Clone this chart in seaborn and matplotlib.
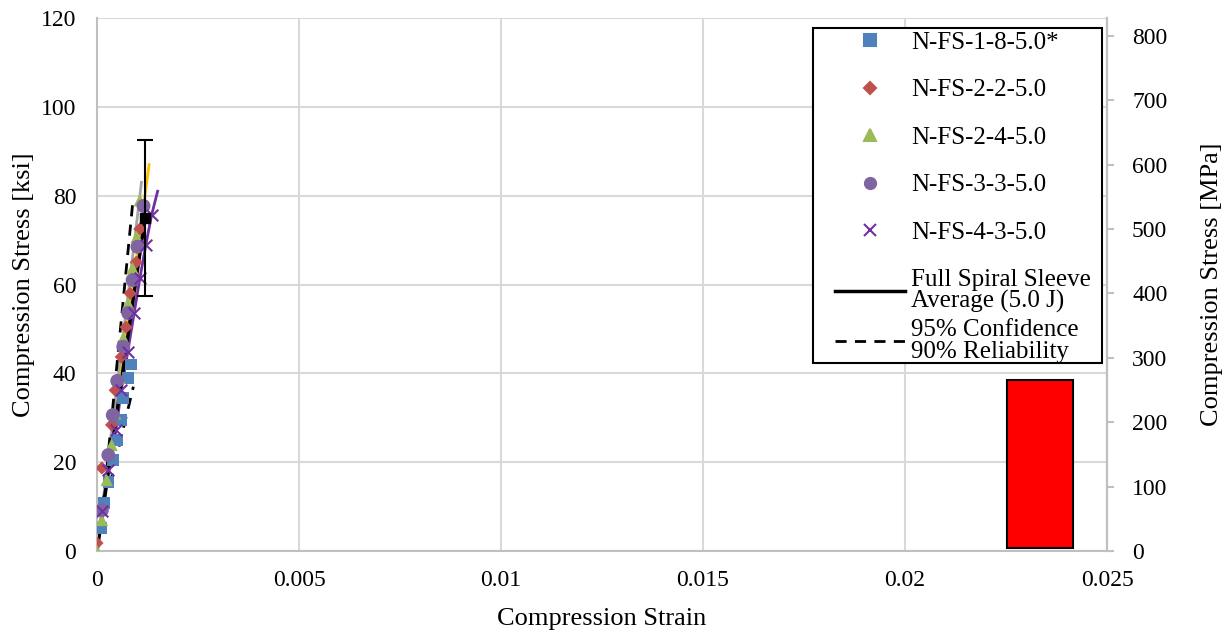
import matplotlib
matplotlib.use('Agg')
import matplotlib.pyplot as plt
import seaborn as sns
import pandas as pd
from matplotlib.lines import Line2D
from matplotlib.patches import Rectangle

# data (strain, ksi)
s1_strain = [0.0001, 0.00018, 0.00028, 0.0004, 0.00049, 0.0006, 0.00065, 0.00077, 0.00084]
s1_stress = [5.2, 10.8, 15.6, 20.5, 25.0, 29.5, 34.5, 39.0, 42.0]
s2_strain = [0.0, 0.00012, 0.00036, 0.00045, 0.0006, 0.00072, 0.00082, 0.00097, 0.00106]
s2_stress = [1.8, 18.7, 28.4, 36.2, 43.7, 50.4, 58.0, 65.0, 72.5]
s3_strain = [0.0, 0.00012, 0.00024, 0.00036, 0.00045, 0.00055, 0.00065, 0.00077, 0.00088, 0.00098, 0.00106]
s3_stress = [0.0, 7.0, 16.0, 23.9, 31.0, 39.0, 48.0, 55.8, 63.7, 70.7, 79.0]
s4_strain = [0.00012, 0.00028, 0.00039, 0.0005, 0.00065, 0.00077, 0.00088, 0.001, 0.00115]
s4_stress = [9.2, 21.6, 30.6, 38.3, 46.0, 53.6, 61.0, 68.5, 77.7]
s5_strain = [0.00012, 0.00028, 0.00047, 0.0006, 0.00076, 0.00092, 0.00106, 0.00121, 0.00135]
s5_stress = [9.0, 18.2, 27.2, 36.2, 44.8, 53.6, 61.4, 69.0, 75.6]
s5_line_strain = [0.0, 0.00012, 0.00028, 0.00047, 0.0006, 0.00076, 0.00092, 0.00106, 0.00121, 0.00135, 0.0015]
s5_line_stress = [0.0, 9.0, 18.2, 27.2, 36.2, 44.8, 53.6, 61.4, 69.0, 75.6, 81.0]

# extra curves with no legend entry
yellow_strain = [0.0, 0.0004, 0.0008, 0.00129]
yellow_stress = [0.0, 27.0, 54.0, 87.0]
grey_strain = [0.0, 0.0004, 0.0008, 0.0011]
grey_stress = [0.0, 30.0, 60.0, 83.0]

avg_strain = [0.0, 0.0003, 0.0006, 0.0009, 0.00119]
avg_stress = [0.0, 19.0, 38.0, 57.0, 75.0]
peak_strain = [0.00119]
peak_stress = [75.0]
peak_err = [17.5]

upper_strain = [0.00015, 0.00088]
upper_stress = [10.0, 78.0]
lower_strain = [0.00032, 0.0009]
lower_stress = [15.0, 37.0]

labels = ["N-FS-1-8-5.0*", "N-FS-2-2-5.0", "N-FS-2-4-5.0", "N-FS-3-3-5.0", "N-FS-4-3-5.0"]
colors = ["#4F81BD", "#C0504D", "#9BBB59", "#8064A2", "#7030A0"]
markers = ["s", "D", "^", "o", "x"]
sizes = [70, 45, 80, 100, 70]

plt.rcParams['font.family'] = ['Liberation Serif', 'DejaVu Serif']

fig = plt.figure(figsize=(12.28, 6.33), dpi=100)
ax = fig.add_axes([0.079, 0.1295, 0.8225, 0.842])

sns.lineplot(x=yellow_strain, y=yellow_stress, color="#FFC000", lw=2, ax=ax, sort=False)
sns.lineplot(x=grey_strain, y=grey_stress, color="#A5A5A5", lw=2, ax=ax, sort=False)
sns.lineplot(x=s5_line_strain, y=s5_line_stress, color="#7030A0", lw=2, ax=ax, sort=False)
sns.lineplot(x=avg_strain, y=avg_stress, color="black", lw=2.5, ax=ax, sort=False)

series = [(s1_strain, s1_stress), (s2_strain, s2_stress), (s3_strain, s3_stress),
          (s4_strain, s4_stress), (s5_strain, s5_stress)]
for (xs, ys), lab, c, m, sz in zip(series, labels, colors, markers, sizes):
    df = pd.DataFrame({"strain": xs, "stress": ys})
    if m == "x":
        sns.scatterplot(data=df, x="strain", y="stress", color=c, marker=m, s=sz,
                        linewidth=1.5, ax=ax, zorder=4)
    else:
        sns.scatterplot(data=df, x="strain", y="stress", color=c, marker=m, s=sz,
                        edgecolor="none", ax=ax, zorder=4)

sns.lineplot(x=upper_strain, y=upper_stress, color="black", lw=2, ls=(0, (4, 3)), ax=ax, sort=False)
sns.lineplot(x=lower_strain, y=lower_stress, color="black", lw=2, ls=(0, (4, 3)), ax=ax, sort=False)

ax.errorbar(peak_strain, peak_stress, yerr=peak_err, fmt="s", color="black",
            ms=7, capsize=6, elinewidth=1.5, capthick=1.5, zorder=5)

ax.add_patch(Rectangle((0.02253, 0.7), 0.00163, 37.8, facecolor="red",
                       edgecolor="black", lw=1.5, zorder=5))

ax.set_xlim(0, 0.025)
ax.set_ylim(0, 120)
ax.set_xticks([0, 0.005, 0.01, 0.015, 0.02, 0.025])
ax.set_xticklabels(["0", "0.005", "0.01", "0.015", "0.02", "0.025"])
ax.set_yticks(range(0, 121, 20))
ax.grid(True, color="#D9D9D9", lw=1.5)
ax.set_axisbelow(True)
ax.tick_params(axis="y", length=0, labelsize=17, pad=15)
ax.tick_params(axis="x", length=0, labelsize=17, pad=14)
ax.set_xlabel("Compression Strain", fontsize=19, labelpad=12)
ax.set_ylabel("Compression Stress [ksi]", fontsize=19, labelpad=4)
for side in ["left", "bottom", "right"]:
    ax.spines[side].set_color("#BFBFBF")
    ax.spines[side].set_linewidth(1.5)
ax.spines["top"].set_visible(False)

ax2 = ax.twinx()
ax2.set_ylim(0, 120 * 6.895)
ax2.set_yticks(range(0, 801, 100))
ax2.tick_params(length=5, width=1.5, color="#BFBFBF", labelsize=17, pad=13)
ax2.set_ylabel("Compression Stress [MPa]", fontsize=19, labelpad=24)
for side in ["left", "bottom", "top"]:
    ax2.spines[side].set_visible(False)
ax2.spines["right"].set_color("#BFBFBF")
ax2.spines["right"].set_linewidth(1.5)

# legend frame drawn once, two frameless legends inside it
ax2.add_patch(Rectangle((0.709, 0.353), 0.286, 0.628, transform=ax2.transAxes,
                        facecolor="white", edgecolor="black", lw=1.5, zorder=4))

handles = [Line2D([], [], ls="none", marker=m, color=c, mec=c, ms=8,
                  mew=1.5) for m, c in zip(markers, colors)]
handles[1].set_markersize(6)
handles.append(Line2D([], [], color="black", lw=2.5))
leg_labels = labels + ["Full Spiral Sleeve\nAverage (5.0 J)"]
leg1 = ax2.legend(handles, leg_labels, loc="upper left", bbox_to_anchor=(0.7307, 0.975),
                  fontsize=18, frameon=False, handlelength=2.8, labelspacing=1.0,
                  borderpad=0, handletextpad=0.24, borderaxespad=0)
for t in leg1.get_texts():
    t.set_linespacing(0.95)
leg1.set_zorder(5)
ax2.add_artist(leg1)

leg2 = ax2.legend([Line2D([], [], color="black", lw=2, ls=(0, (4, 3)))],
                  ["95% Confidence\n90% Reliability"], loc="center left",
                  bbox_to_anchor=(0.7307, 0.394), fontsize=18, frameon=False,
                  handlelength=2.8, borderpad=0, handletextpad=0.24, borderaxespad=0)
for t in leg2.get_texts():
    t.set_linespacing(0.95)
leg2.set_zorder(5)

fig.savefig("out.png", dpi=100)
